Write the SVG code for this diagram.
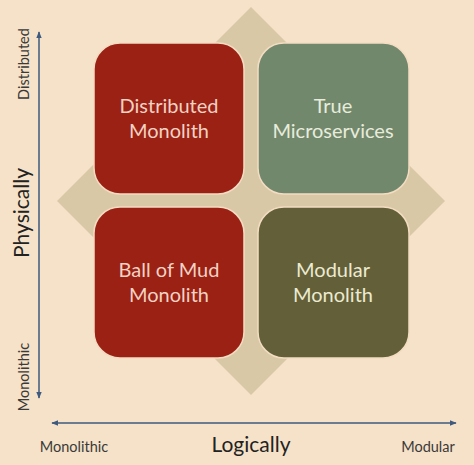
<svg xmlns="http://www.w3.org/2000/svg" width="474" height="465" viewBox="0 0 474 465">
<defs>
<marker id="ah" viewBox="0 0 10 10" refX="9" refY="5" markerWidth="7" markerHeight="7" orient="auto-start-reverse" markerUnits="userSpaceOnUse"><path d="M0,1 L10,5 L0,9 Z" fill="#3e5a7e"/></marker>
</defs>
<style>
text{font-family:Lato,"Open Sans","Liberation Sans",sans-serif;text-anchor:middle}
.box{stroke:#f3dcc2;stroke-width:1.5}
.lbl{font-size:20px}
.axl{font-size:14.5px;fill:#3a3a3a}
.ttl{font-size:21px;fill:#222}
.ax{stroke:#3e5a7e;stroke-width:1.5;fill:none;marker-start:url(#ah);marker-end:url(#ah)}
</style>
<rect width="474" height="465" fill="#f6e2c8"/>
<polygon points="251,7 445,201 251,395 57,201" fill="#d9c8a6"/>
<g id="distributed-monolith"><rect class="box" x="94" y="43" width="150" height="151" rx="26" fill="#9a2114"/><text class="lbl" fill="#f2d2c3" x="169" y="113">Distributed</text><text class="lbl" fill="#f2d2c3" x="169" y="138">Monolith</text></g>
<g id="true-microservices"><rect class="box" x="258" y="43" width="151" height="151" rx="26" fill="#72886c"/><text class="lbl" fill="#e8ecdc" x="333" y="113">True</text><text class="lbl" fill="#e8ecdc" x="333" y="138">Microservices</text></g>
<g id="ball-of-mud"><rect class="box" x="94" y="207" width="150" height="151" rx="26" fill="#9a2114"/><text class="lbl" fill="#f2d2c3" x="169" y="277">Ball of Mud</text><text class="lbl" fill="#f2d2c3" x="169" y="302">Monolith</text></g>
<g id="modular-monolith"><rect class="box" x="258" y="207" width="151" height="151" rx="26" fill="#636039"/><text class="lbl" fill="#ecead0" x="333" y="277">Modular</text><text class="lbl" fill="#ecead0" x="333" y="302">Monolith</text></g>
<g id="connectors">
<line class="ax" x1="39" y1="398" x2="39" y2="32"/>
<line class="ax" x1="52" y1="423" x2="456" y2="423"/>
</g>
<g id="axis-labels">
<text class="axl" transform="translate(29,64) rotate(-90)">Distributed</text>
<text class="axl" transform="translate(29,377) rotate(-90)">Monolithic</text>
<text class="ttl" transform="translate(29,213) rotate(-90)">Physically</text>
<text class="axl" x="74" y="452">Monolithic</text>
<text class="ttl" x="251" y="452">Logically</text>
<text class="axl" x="428" y="452">Modular</text>
</g>
</svg>
